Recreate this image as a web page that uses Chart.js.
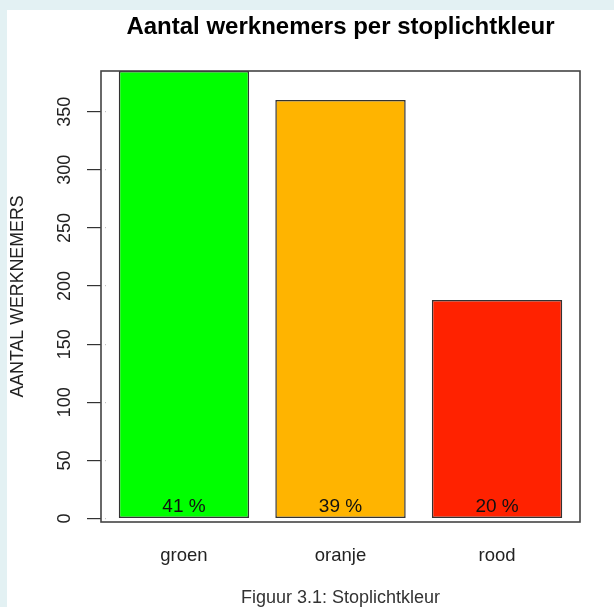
<!DOCTYPE html>
<html>
<head>
<meta charset="utf-8">
<script src="https://cdn.jsdelivr.net/npm/chart.js@4"></script>
<style>
    html, body {
        margin: 0;
        padding: 0;
        width: 614px;
        height: 607px;
        background: #e3f1f3;
        overflow: hidden;
    }
    #sheet {
        position: absolute;
        left: 7px;
        top: 10px;
        width: 607px;
        height: 597px;
        background: #ffffff;
    }
</style>
</head>
<body>
<div id="sheet"><canvas id="stoplichtChart"></canvas></div>
<script>
const categories = ['groen', 'oranje', 'rood'];
const counts = [385, 360, 188];
const barColors = ['#00ff00', '#ffb400', '#ff2200'];
const yTicks = [0, 50, 100, 150, 200, 250, 300, 350];
const pctLabelValue = 10;

const total = counts.reduce((a, b) => a + b, 0);
const pctLabels = counts.map((v) => Math.round(v / total * 100) + ' %');

// R puts a 4% margin round the bars, so the box sits a little outside the category band
const BOX_PAD_X = 4.7;

Chart.defaults.font.family = '"Liberation Sans", Arial, Helvetica, sans-serif';
Chart.defaults.color = '#222';

const rBoxPlugin = {
    id: 'rBox',
    beforeDatasetsDraw(chart) {
        const { ctx, chartArea: a } = chart;
        ctx.save();
        ctx.fillStyle = '#ffffff';
        ctx.fillRect(a.left - BOX_PAD_X, a.top, BOX_PAD_X, a.bottom - a.top);
        ctx.restore();
    },
    afterDatasetsDraw(chart) {
        const { ctx, chartArea: a } = chart;
        const yScale = chart.scales.y;
        const meta = chart.getDatasetMeta(0);

        ctx.save();
        ctx.font = '19px "Liberation Sans", Arial, sans-serif';
        ctx.fillStyle = '#111';
        ctx.textAlign = 'center';
        ctx.textBaseline = 'middle';
        meta.data.forEach((bar, i) => {
            ctx.fillText(pctLabels[i], bar.x, yScale.getPixelForValue(pctLabelValue));
        });

        ctx.strokeStyle = '#444';
        ctx.lineWidth = 1.6;
        ctx.strokeRect(a.left - BOX_PAD_X, a.top, a.right - a.left + 2 * BOX_PAD_X, a.bottom - a.top);
        ctx.restore();
    },
};

new Chart(document.getElementById('stoplichtChart'), {
    type: 'bar',
    data: {
        labels: categories,
        datasets: [
            {
                data: counts,
                backgroundColor: barColors,
                borderColor: '#333',
                borderWidth: 1.5,
                borderSkipped: false,
                barPercentage: 0.833,
                categoryPercentage: 1,
            },
        ],
    },
    options: {
        responsive: true,
        maintainAspectRatio: false,
        animation: false,
        layout: {
            padding: { left: 0, right: 38.7, top: 0, bottom: 0 },
        },
        plugins: {
            legend: { display: false },
            tooltip: { enabled: false },
            title: {
                display: true,
                text: 'Aantal werknemers per stoplichtkleur',
                fullSize: false,
                color: '#000',
                font: { size: 24, weight: 'bold' },
                padding: { top: 3.2, bottom: 29 },
            },
        },
        scales: {
            x: {
                offset: true,
                grid: { display: false, drawTicks: false },
                border: { display: false },
                ticks: {
                    padding: 23,
                    color: '#222',
                    font: { size: 18.5 },
                },
                title: {
                    display: true,
                    text: 'Figuur 3.1: Stoplichtkleur',
                    color: '#333',
                    font: { size: 18, lineHeight: 1 },
                    padding: { top: 0, bottom: 0 },
                },
                afterFit(scale) {
                    scale.height = 85;
                },
            },
            y: {
                min: -3,
                max: 385,
                afterBuildTicks(scale) {
                    scale.ticks = yTicks.map((value) => ({ value }));
                },
                grid: {
                    drawOnChartArea: false,
                    drawTicks: true,
                    tickLength: 18.7,
                    color: '#333',
                    lineWidth: 1.2,
                },
                border: { display: false },
                ticks: {
                    minRotation: 90,
                    maxRotation: 90,
                    crossAlign: 'center',
                    padding: 6.5,
                    autoSkip: false,
                    color: '#222',
                    font: { size: 18 },
                },
                title: {
                    display: true,
                    text: 'AANTAL WERKNEMERS',
                    color: '#222',
                    font: { size: 17.8 },
                    padding: { top: 0.6, bottom: 0 },
                },
                afterFit(scale) {
                    scale.width = 98.7;
                },
            },
        },
    },
    plugins: [rBoxPlugin],
});
</script>
</body>
</html>
